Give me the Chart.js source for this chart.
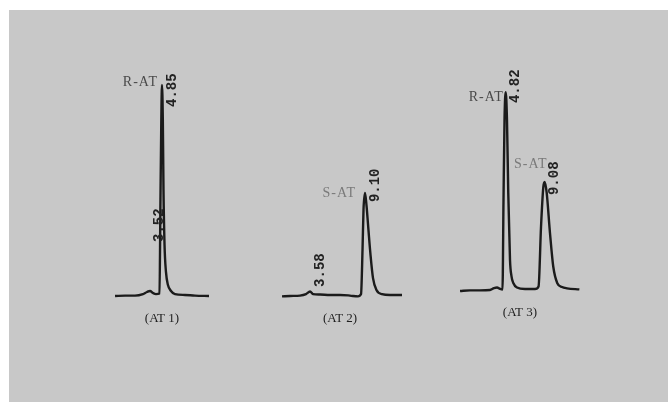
<!DOCTYPE html>
<html>
<head>
<meta charset="utf-8">
<script src="https://cdn.jsdelivr.net/npm/chart.js@4"></script>
<style>
    html, body { margin: 0; padding: 0; background: #ffffff; }
    #chrom { display: block; }
</style>
</head>
<body>
<canvas id="chrom" width="668" height="402"></canvas>
<script>
// Chromatogram traces (time in minutes, relative signal)
const at1Time   = [-0.09, 0.96, 2.01, 2.85, 3.27, 3.59, 3.91, 4.22, 4.59, 4.69, 4.78, 4.85, 4.94, 5.01, 5.12, 5.27, 5.48, 5.80, 6.22, 7.27, 8.33, 9.80];
const at1Signal = [0, 0.2, 0.2, 0.9, 1.9, 2.4, 1.4, 0.9, 1.2, 45.5, 83.4, 100, 83.4, 50.2, 24.2, 11.4, 5.2, 2.4, 0.9, 0.5, 0.2, 0];

const at2Time   = [0.72, 1.53, 2.54, 3.14, 3.55, 3.85, 4.56, 5.57, 6.58, 7.58, 8.39, 8.70, 8.85, 8.95, 9.10, 9.25, 9.45, 9.66, 9.91, 10.26, 10.82, 11.63, 12.84];
const at2Signal = [-0.2, 0, 0.2, 0.9, 2.1, 0.9, 0.7, 0.5, 0.5, 0.2, -0.2, 0.9, 21.8, 40.8, 48.8, 43.1, 31.3, 19.4, 8.5, 2.8, 0.9, 0.5, 0.5];

const at3Time   = [-0.17, 0.92, 2.01, 3.10, 3.54, 3.87, 4.20, 4.47, 4.58, 4.69, 4.82, 4.96, 5.10, 5.29, 5.45, 5.65, 6.05, 6.93, 8.02, 8.41, 8.68, 8.93, 9.08, 9.30, 9.66, 10.02, 10.46, 10.97, 11.52, 12.87];
const at3Signal = [-0.5, -0.2, -0.2, 0, 0.9, 1.2, 0.5, 0.2, 42.7, 80.6, 93.8, 80.6, 46, 14.2, 6.6, 3.3, 1.2, 0.5, 0.5, 1.7, 30, 48.8, 51.2, 46, 27, 11, 3.2, 1.4, 0.8, 0.3];

const panelNames = ["(AT 1)", "(AT 2)", "(AT 3)"];

// retention time labels printed by the integrator
const rtPanel  = [0, 0, 1, 1, 2, 2];
const rtTimes  = [4.85, 3.52, 9.10, 3.58, 4.82, 9.08];
const rtLevel  = [89.6, 25.6, 44.5, 4.3, 88.6, 45];

// peak names
const peakNames  = ["R-AT", "S-AT", "R-AT", "S-AT"];
const peakPanel  = [0, 1, 2, 2];
const peakTime   = [4.32, 8.1, 4.5, 9.28];
const peakLevel  = [99.5, 46.9, 89.6, 57.8];

// layout of the three panels on the page (pixels)
const W = 668, H = 402;
const panels = [
    { x0: 115.9, ppm: 9.5,  base: 296, ppu: 2.11, captionT: 4.85 },
    { x0: 274.9, ppm: 9.9,  base: 296, ppu: 2.11, captionT: 6.58 },
    { x0: 461.6, ppm: 9.15, base: 290, ppu: 2.11, captionT: 6.38 }
];

const traces = [[at1Time, at1Signal], [at2Time, at2Signal], [at3Time, at3Signal]];

let scales = {};
let datasets = [];
panels.forEach((p, i) => {
    scales["x" + i] = {
        type: "linear", display: false, bounds: "data",
        min: -p.x0 / p.ppm, max: (W - p.x0) / p.ppm
    };
    scales["y" + i] = {
        type: "linear", display: false, bounds: "data",
        min: -(H - p.base) / p.ppu, max: p.base / p.ppu
    };
    const t = traces[i][0], s = traces[i][1];
    datasets.push({
        data: t.map((v, k) => ({ x: v, y: s[k] })),
        xAxisID: "x" + i,
        yAxisID: "y" + i,
        showLine: true,
        borderColor: "#1b1b1b",
        borderWidth: 2.4,
        pointRadius: 0,
        cubicInterpolationMode: "monotone",
        clip: false
    });
});

const paperPlugin = {
    id: "paper",
    beforeDraw(chart) {
        const ctx = chart.ctx;
        ctx.save();
        ctx.fillStyle = "#ffffff";
        ctx.fillRect(0, 0, W, H);
        ctx.fillStyle = "#c8c8c8";
        ctx.fillRect(9, 10, W - 9, H - 10);
        ctx.restore();
    }
};

const labelPlugin = {
    id: "labels",
    afterDatasetsDraw(chart) {
        const ctx = chart.ctx;
        const sx = i => chart.scales["x" + i];
        const sy = i => chart.scales["y" + i];
        ctx.save();

        // retention times, rotated
        ctx.font = "bold 14px 'Liberation Mono', monospace";
        ctx.fillStyle = "#222222";
        ctx.textAlign = "left";
        ctx.textBaseline = "middle";
        rtTimes.forEach((t, k) => {
            const i = rtPanel[k];
            const x = sx(i).getPixelForValue(t) + 10;
            const y = sy(i).getPixelForValue(rtLevel[k]);
            ctx.save();
            ctx.translate(x, y);
            ctx.rotate(-Math.PI / 2);
            ctx.fillText(t.toFixed(2), 0, 0);
            ctx.restore();
        });

        // peak names
        ctx.font = "14px 'Liberation Serif', serif";
        ctx.letterSpacing = "1px";
        ctx.textAlign = "right";
        ctx.textBaseline = "alphabetic";
        peakNames.forEach((n, k) => {
            const i = peakPanel[k];
            ctx.fillStyle = n === "R-AT" ? "#4a4a4a" : "#7a7a7a";
            ctx.fillText(n, sx(i).getPixelForValue(peakTime[k]) + 1, sy(i).getPixelForValue(peakLevel[k]));
        });

        // panel captions
        ctx.letterSpacing = "0px";
        ctx.font = "13px 'Liberation Serif', serif";
        ctx.fillStyle = "#1e1e1e";
        ctx.textAlign = "center";
        ctx.textBaseline = "middle";
        panels.forEach((p, i) => {
            ctx.fillText(panelNames[i], sx(i).getPixelForValue(p.captionT), p.base + 23);
        });
        ctx.restore();
    }
};

new Chart(document.getElementById("chrom"), {
    type: "scatter",
    data: { datasets: datasets },
    options: {
        responsive: false,
        animation: false,
        devicePixelRatio: 1,
        layout: { padding: 0 },
        scales: scales,
        plugins: { legend: { display: false }, tooltip: { enabled: false } }
    },
    plugins: [paperPlugin, labelPlugin]
});
</script>
</body>
</html>
